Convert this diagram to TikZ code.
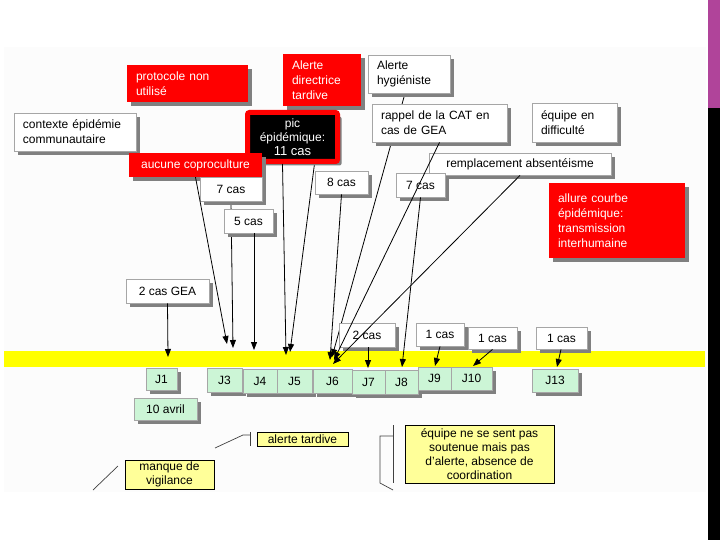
\documentclass[tikz,border=0pt]{standalone}
\usepackage{fontspec}
\setmainfont{Liberation Sans}
\usetikzlibrary{shadows,arrows.meta}
\pgfdeclarelayer{back}
\pgfsetlayers{back,main}
\definecolor{slred}{HTML}{FF0000}
\definecolor{slgreen}{HTML}{CCF5D6}
\definecolor{slyellow}{HTML}{FFFF00}
\definecolor{slpale}{HTML}{FFFF99}
\definecolor{slborder}{HTML}{A6A6A6}
\definecolor{slshadow}{HTML}{808080}
\definecolor{slpurple}{HTML}{B0449A}
\definecolor{slbg}{HTML}{FCFCFC}
\definecolor{slline}{HTML}{404040}
\tikzset{
  basebox/.style={inner sep=0pt, font=\fontsize{12}{15}\selectfont,
    drop shadow={shadow xshift=4pt, shadow yshift=-4pt, fill=slshadow, opacity=1}},
  redbox/.style={basebox, fill=slred, text=white},
  whitebox/.style={basebox, fill=white, draw=slborder, line width=0.8pt},
  picbox/.style={basebox, fill=black, draw=slred, line width=5pt, text=white,
    rounded corners=2pt, align=center, font=\fontsize{12}{14}\selectfont},
  daybox/.style={basebox, fill=slgreen, draw=slborder, line width=0.8pt},
  notebox/.style={inner sep=0pt, fill=slpale, draw=black, line width=0.8pt,
    align=center, font=\fontsize{12}{14}\selectfont},
  link/.style={draw=black, line width=0.8pt, -{Triangle[length=8pt,width=6pt]}},
  mark line/.style={draw=slline, line width=0.7pt},
}
\newcommand\cbox[7]{%
  \pgfmathsetmacro\rsW{#5-#3}\pgfmathsetmacro\rsH{#6-#4}%
  \pgfmathsetmacro\rsX{(#3+#5)/2}\pgfmathsetmacro\rsY{(#4+#6)/2}%
  \node[#1, minimum width=\rsW pt, minimum height=\rsH pt] (#2) at (\rsX,\rsY) {#7};}
\newcommand\lbox[7]{%
  \pgfmathsetmacro\rsW{#5-#3}\pgfmathsetmacro\rsH{#6-#4}%
  \pgfmathsetmacro\rsT{#5-#3-18}%
  \pgfmathsetmacro\rsX{(#3+#5)/2}\pgfmathsetmacro\rsY{(#4+#6)/2}%
  \node[#1, minimum width=\rsW pt, minimum height=\rsH pt, text width=\rsT pt, align=left] (#2) at (\rsX,\rsY) {#7};}
\begin{document}
\begin{tikzpicture}[x=1pt,y=-1pt]
\useasboundingbox (0,0) rectangle (720,540);
\begin{pgfonlayer}{back}
  \fill[white] (0,0) rectangle (720,540);
  \fill[slbg] (4,47) rectangle (706,492);
  \fill[slyellow] (4,351) rectangle (705,367);
\end{pgfonlayer}
\fill[slpurple] (708,0) rectangle (720,108);
\fill[black] (708,108) rectangle (720,540);

% top boxes
\lbox{redbox}{proto}{127}{65}{248}{102}{protocole non\\utilisé}
\lbox{redbox}{adir}{283}{54}{361}{106}{Alerte\\directrice\\tardive}
\lbox{whitebox}{ahyg}{368}{55}{450}{93}{Alerte\\hygiéniste}
\lbox{whitebox}{ctx}{14}{113}{136}{151}{contexte épidémie\\communautaire}
\cbox{picbox}{pic}{247.5}{112.5}{337.5}{161.5}{pic\\épidémique:\\{\fontsize{13}{15}\selectfont 11 cas}}
\lbox{whitebox}{rappel}{372}{104}{507}{142}{rappel de la CAT en\\cas de GEA}
\lbox{whitebox}{diff}{532}{103}{617}{142}{équipe en\\difficulté}
\cbox{redbox}{copro}{129}{153}{262}{177}{aucune coproculture}
\cbox{whitebox}{sevenA}{200}{177}{262}{201}{7 cas}
\cbox{whitebox}{eight}{315}{171}{368}{194}{8 cas}
\cbox{whitebox}{repl}{429}{153}{611}{175}{remplacement absentéisme}
\cbox{whitebox}{sevenB}{396}{173}{445}{197}{7 cas}
\lbox{redbox}{allure}{549}{183}{685}{258}{allure courbe\\épidémique:\\transmission\\interhumaine}
\cbox{whitebox}{five}{224}{209}{273}{233}{5 cas}
\cbox{whitebox}{gea}{126}{279}{209}{303}{2 cas GEA}
\cbox{whitebox}{two}{339}{323}{395}{347}{2 cas}
\cbox{whitebox}{oneA}{416}{323}{464}{346}{1 cas}
\cbox{whitebox}{oneB}{468}{327}{517}{349}{1 cas}
\cbox{whitebox}{oneC}{536}{327}{587}{349}{1 cas}

% day boxes
\cbox{daybox}{dJ1}{146}{368}{177}{390}{J1}
\cbox{daybox}{dAvril}{134}{398}{197}{420}{10 avril}
\cbox{daybox}{dJ3}{207}{368}{242}{392}{J3}
\cbox{daybox}{dJ4}{243}{369}{277}{393}{J4}
\cbox{daybox}{dJ5}{277}{369}{312}{393}{J5}
\cbox{daybox}{dJ6}{313}{369}{352}{393}{J6}
\cbox{daybox}{dJ7}{352}{370}{385}{394}{J7}
\cbox{daybox}{dJ8}{385}{370}{418}{394}{J8}
\cbox{daybox}{dJ9}{418}{367}{451}{390}{J9}
\cbox{daybox}{dJ10}{451}{367}{492}{390}{J10}
\cbox{daybox}{dJ13}{532}{369}{578}{392}{J13}

% bottom notes
\cbox{notebox}{nAlerte}{257}{432}{348}{446}{alerte tardive}
\cbox{notebox}{nManque}{125}{460}{214}{489}{manque de\\vigilance}
\cbox{notebox}{nEquipe}{405}{425}{554}{483}{équipe ne se sent pas\\soutenue mais pas\\d'alerte, absence de\\coordination}

% bracket marks
\draw[mark line] (215,448) -- (243,435) -- (250,435);
\draw[mark line] (250,432) -- (250,446);
\draw[mark line] (93,490) -- (118,466);
\draw[mark line] (393,425) -- (393,483);
\draw[mark line] (393,436) -- (380,436) -- (380,483) -- (393,490);

% arrow targets on the band
\coordinate (tCopro) at (227,344);
\coordinate (tSevA) at (233,348);
\coordinate (tFive) at (254,350);
\coordinate (tPic) at (286,355);
\coordinate (tDir) at (290,352);
\coordinate (tEight) at (330,360);
\coordinate (tHyg) at (332,357);
\coordinate (tRap) at (334,360);
\coordinate (tRepl) at (333,364);
\coordinate (tSevB) at (402,367);
\coordinate (tGEA) at (168,357);
\coordinate (tTwo) at (368,368);
\coordinate (tOneA) at (435,366);
\coordinate (tOneB) at (473,366);
\coordinate (tOneC) at (557,367);

% connectors hidden behind boxes
\begin{pgfonlayer}{back}
  \draw[link] (adir.south) -- (tDir);
  \draw[link] ([xshift=-4pt]ahyg.south) -- (tHyg);
  \draw[link] (sevenA.south) -- (tSevA);
\end{pgfonlayer}

% visible connectors
\draw[link] (copro.south) -- (tCopro);
\draw[link] ([xshift=5.5pt]five.south) -- (tFive);
\draw[link] ([xshift=-10pt]pic.south) -- (tPic);
\draw[link] (eight.south) -- (tEight);
\draw[link] (rappel.south) -- (tRap);
\draw[link] (repl.south) -- (tRepl);
\draw[link] (sevenB.south) -- (tSevB);
\draw[link] (gea.south) -- (tGEA);
\draw[link] ([xshift=1pt]two.south) -- (tTwo);
\draw[link] (oneA.south) -- (tOneA);
\draw[link] (oneB.south) -- (tOneB);
\draw[link] ([xshift=-0.5pt]oneC.south) -- (tOneC);
\end{tikzpicture}
\end{document}
